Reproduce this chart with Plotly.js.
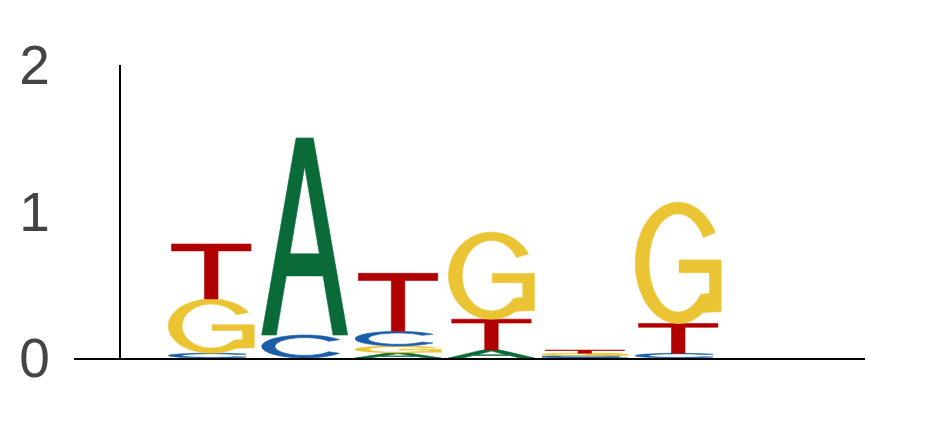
<!DOCTYPE html>
<html>
<head>
<meta charset="utf-8">
<script src="https://cdn.plot.ly/plotly-3.0.1.min.js"></script>
<style>
  html, body { margin: 0; padding: 0; background: #fff; }
  #logo { width: 931px; height: 429px; }
</style>
</head>
<body>
<div id="logo"></div>
<script>
// information content (bits) per position
const POSITIONS = [1, 2, 3, 4, 5, 6];
const BITS_A = [0.000, 1.345, 0.035, 0.055, 0.004, 0.000];
const BITS_C = [0.033, 0.157, 0.100, 0.000, 0.012, 0.032];
const BITS_G = [0.370, 0.000, 0.047, 0.594, 0.017, 0.828];
const BITS_T = [0.375, 0.000, 0.396, 0.210, 0.021, 0.203];
const Y_TICKS = [0, 1, 2];

const COLORS = { A: '#0a6b39', C: '#1b5ea7', G: '#ebc433', T: '#b10000' };
const WIDTHS = { A: 0.92, C: 0.92, G: 0.92, T: 0.85 };

// unit-box glyph outlines (u right, v up), one array per sub-path
function arc(cx, cy, rx, ry, a0, a1, n) {
  const pts = [];
  for (let i = 0; i <= n; i++) {
    const a = (a0 + (a1 - a0) * i / n) * Math.PI / 180;
    pts.push([cx + rx * Math.cos(a), cy + ry * Math.sin(a)]);
  }
  return pts;
}

const GLYPHS = {
  A: [
    [[0, 0], [0.40, 1], [0.60, 1], [1, 0], [0.83, 0], [0.714, 0.30], [0.286, 0.30], [0.17, 0]],
    [[0.329, 0.412], [0.671, 0.412], [0.5, 0.856]],
  ],
  T: [
    [[0, 1], [1, 1], [1, 0.875], [0.585, 0.875], [0.585, 0], [0.415, 0], [0.415, 0.875], [0, 0.875]],
  ],
  C: [
    arc(0.5, 0.5, 0.5, 0.5, 36, 324, 48).concat(arc(0.5, 0.5, 0.345, 0.385, 324, 36, 48)),
  ],
  G: [
    arc(0.5, 0.5, 0.5, 0.5, 30, 305, 48)
      .concat([[1.0, 0.10], [1.0, 0.525], [0.51, 0.525], [0.51, 0.42], [0.865, 0.42], [0.865, 0.25]])
      .concat(arc(0.5, 0.5, 0.34, 0.405, 320, 31, 48)),
  ],
};

function glyphPath(letter, xc, y0, h) {
  const w = WIDTHS[letter];
  const x0 = xc - w / 2;
  return GLYPHS[letter].map(sub =>
    sub.map((p, i) => (i ? 'L' : 'M') + (x0 + p[0] * w).toFixed(4) + ',' + (y0 + p[1] * h).toFixed(5)).join(' ') + ' Z'
  ).join(' ');
}

const shapes = [];
POSITIONS.forEach((pos, i) => {
  const stack = [
    ['A', BITS_A[i]], ['C', BITS_C[i]], ['G', BITS_G[i]], ['T', BITS_T[i]],
  ].filter(d => d[1] > 0).sort((a, b) => a[1] - b[1]);
  let base = 0;
  stack.forEach(([letter, h]) => {
    shapes.push({
      type: 'path', xref: 'x', yref: 'y', layer: 'above',
      path: glyphPath(letter, pos, base, h),
      fillcolor: COLORS[letter], fillrule: 'evenodd',
      line: { width: 0.6, color: COLORS[letter] },
    });
    base += h;
  });
});

const layout = {
  width: 931, height: 429,
  margin: { l: 74, r: 66, t: 65, b: 71 },
  paper_bgcolor: '#fff', plot_bgcolor: '#fff',
  showlegend: false,
  font: { family: 'Liberation Sans, Arial, sans-serif', color: '#444' },
  xaxis: {
    range: [-0.47, 8.0], showgrid: false, zeroline: false,
    showline: true, linecolor: '#000', linewidth: 1.5,
    ticks: '', showticklabels: false, fixedrange: true,
  },
  yaxis: {
    range: [0, 2], anchor: 'free', position: 0.058,
    showgrid: false, zeroline: false,
    showline: true, linecolor: '#000', linewidth: 2,
    tickvals: Y_TICKS, ticktext: Y_TICKS.map(String), ticks: '',
    ticklabelstandoff: 58,
    tickfont: { size: 55, color: '#444', family: 'Liberation Sans, Arial, sans-serif' },
    fixedrange: true,
  },
  shapes: shapes,
};

Plotly.newPlot('logo', [{ x: POSITIONS, y: POSITIONS.map(() => 0), mode: 'markers', marker: { opacity: 0 }, hoverinfo: 'skip' }],
  layout, { displayModeBar: false, staticPlot: true });
</script>
</body>
</html>
